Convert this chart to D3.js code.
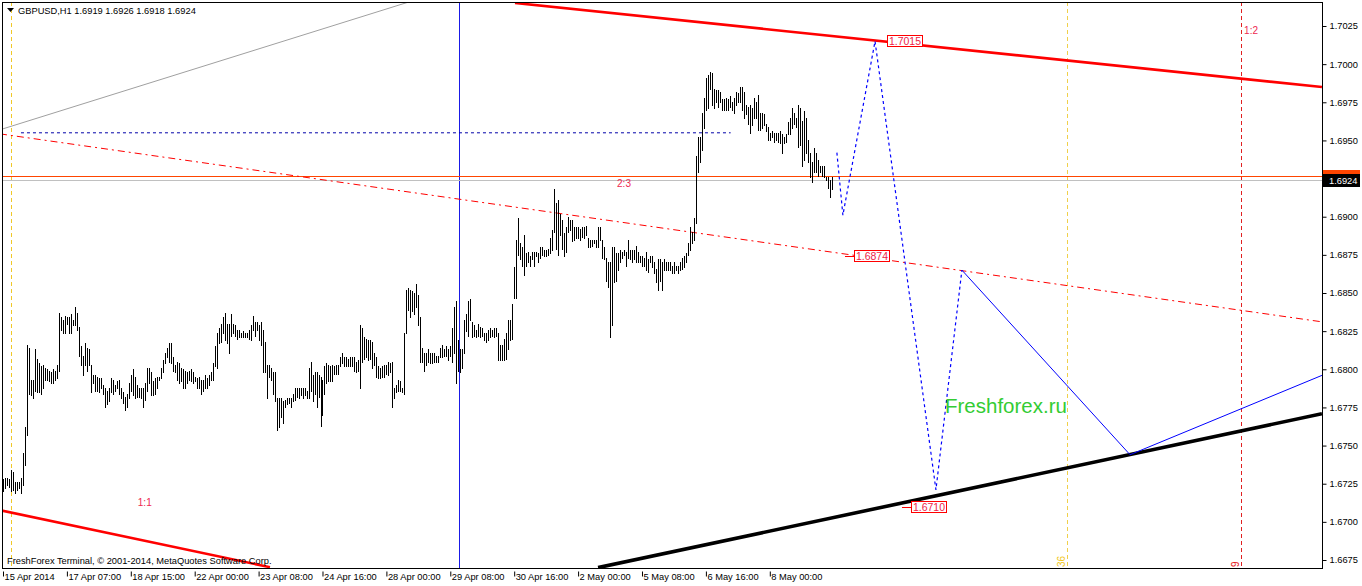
<!DOCTYPE html>
<html><head><meta charset="utf-8">
<script src="https://cdn.jsdelivr.net/npm/d3@7"></script>
<style>
body{margin:0;background:#fff;overflow:hidden}
svg{display:block}
text{font-family:"Liberation Sans",Arial,sans-serif}
</style>
</head><body>
<svg id="chart" width="1362" height="586"></svg>
<script>
// ---------------- DATA ----------------
const symbolTitle = "GBPUSD,H1  1.6919 1.6926 1.6918 1.6924";
const copyrightText = "FreshForex Terminal, \u00A9 2001-2014, MetaQuotes Software Corp.";
const watermark = "Freshforex.ru";

const barHighs = [
1.6728,1.6729,1.6729,1.6728,1.6734,1.6733,1.6726,1.6726,1.6726,1.6729,
1.6745,1.6762,1.6816,1.6814,1.6793,1.6793,1.6813,1.6807,1.6804,1.6802,
1.6803,1.6801,1.6800,1.6799,1.6798,1.6800,1.6799,1.6803,1.6837,1.6834,
1.6832,1.6835,1.6834,1.6834,1.6836,1.6832,1.6841,1.6837,1.6828,1.6815,
1.6809,1.6817,1.6814,1.6813,1.6803,1.6796,1.6796,1.6795,1.6794,1.6794,
1.6790,1.6788,1.6786,1.6788,1.6794,1.6793,1.6790,1.6792,1.6793,1.6788,
1.6785,1.6782,1.6784,1.6791,1.6796,1.6800,1.6795,1.6790,1.6788,1.6788,
1.6788,1.6791,1.6801,1.6801,1.6798,1.6792,1.6794,1.6795,1.6795,1.6801,
1.6806,1.6811,1.6814,1.6817,1.6817,1.6808,1.6803,1.6805,1.6804,1.6801,
1.6800,1.6799,1.6798,1.6799,1.6800,1.6798,1.6795,1.6794,1.6795,1.6793,
1.6793,1.6796,1.6794,1.6796,1.6798,1.6804,1.6815,1.6824,1.6827,1.6830,
1.6834,1.6837,1.6830,1.6830,1.6836,1.6830,1.6829,1.6826,1.6826,1.6824,
1.6825,1.6824,1.6824,1.6826,1.6829,1.6835,1.6831,1.6831,1.6829,1.6831,
1.6826,1.6818,1.6803,1.6803,1.6801,1.6798,1.6798,1.6781,1.6781,1.6781,
1.6779,1.6780,1.6781,1.6781,1.6781,1.6784,1.6788,1.6788,1.6788,1.6788,
1.6788,1.6788,1.6786,1.6801,1.6805,1.6796,1.6798,1.6798,1.6796,1.6795,
1.6793,1.6802,1.6804,1.6803,1.6802,1.6803,1.6802,1.6803,1.6803,1.6808,
1.6811,1.6808,1.6808,1.6807,1.6808,1.6808,1.6808,1.6805,1.6806,1.6829,
1.6827,1.6821,1.6820,1.6819,1.6819,1.6818,1.6811,1.6808,1.6802,1.6801,
1.6802,1.6803,1.6803,1.6805,1.6804,1.6805,1.6788,1.6790,1.6793,1.6792,
1.6788,1.6824,1.6852,1.6853,1.6852,1.6851,1.6850,1.6856,1.6849,1.6834,
1.6814,1.6811,1.6811,1.6813,1.6811,1.6811,1.6811,1.6809,1.6809,1.6814,
1.6816,1.6813,1.6815,1.6813,1.6815,1.6827,1.6841,1.6845,1.6819,1.6813,
1.6813,1.6832,1.6836,1.6845,1.6846,1.6831,1.6829,1.6826,1.6830,1.6828,
1.6827,1.6824,1.6824,1.6826,1.6827,1.6826,1.6827,1.6827,1.6824,1.6816,
1.6816,1.6820,1.6824,1.6832,1.6832,1.6843,1.6867,1.6885,1.6899,1.6883,
1.6880,1.6888,1.6876,1.6877,1.6874,1.6877,1.6877,1.6877,1.6876,1.6880,
1.6880,1.6878,1.6878,1.6879,1.6886,1.6891,1.6918,1.6909,1.6911,1.6902,
1.6898,1.6889,1.6893,1.6900,1.6898,1.6898,1.6893,1.6893,1.6893,1.6892,
1.6893,1.6893,1.6894,1.6886,1.6885,1.6885,1.6885,1.6885,1.6893,1.6893,
1.6885,1.6880,1.6873,1.6870,1.6870,1.6880,1.6880,1.6876,1.6876,1.6878,
1.6877,1.6878,1.6877,1.6885,1.6878,1.6878,1.6878,1.6881,1.6877,1.6874,
1.6874,1.6873,1.6877,1.6872,1.6874,1.6874,1.6870,1.6866,1.6872,1.6872,
1.6870,1.6872,1.6870,1.6870,1.6870,1.6868,1.6870,1.6868,1.6868,1.6870,
1.6873,1.6874,1.6876,1.6883,1.6893,1.6890,1.6899,1.6940,1.6952,1.6952,
1.6968,1.6978,1.6991,1.6993,1.6995,1.6994,1.6984,1.6983,1.6983,1.6982,
1.6977,1.6977,1.6978,1.6977,1.6979,1.6975,1.6978,1.6982,1.6981,1.6985,
1.6985,1.6982,1.6973,1.6972,1.6973,1.6971,1.6978,1.6975,1.6980,1.6968,
1.6968,1.6967,1.6961,1.6959,1.6955,1.6956,1.6955,1.6955,1.6955,1.6956,
1.6954,1.6952,1.6954,1.6962,1.6965,1.6971,1.6968,1.6965,1.6973,1.6971,
1.6963,1.6969,1.6965,1.6950,1.6942,1.6936,1.6945,1.6942,1.6937,1.6933,
1.6933,1.6933,1.6926,1.6926,1.6924,1.6926];

const barLows = [
1.6720,1.6722,1.6724,1.6723,1.6720,1.6721,1.6719,1.6721,1.6722,1.6719,
1.6724,1.6737,1.6757,1.6784,1.6783,1.6781,1.6786,1.6785,1.6785,1.6784,
1.6788,1.6793,1.6793,1.6792,1.6791,1.6791,1.6793,1.6794,1.6799,1.6826,
1.6824,1.6824,1.6830,1.6824,1.6824,1.6829,1.6829,1.6826,1.6809,1.6803,
1.6796,1.6803,1.6799,1.6803,1.6785,1.6791,1.6786,1.6786,1.6785,1.6788,
1.6784,1.6775,1.6777,1.6779,1.6785,1.6784,1.6786,1.6788,1.6784,1.6781,
1.6778,1.6773,1.6775,1.6781,1.6786,1.6783,1.6781,1.6782,1.6782,1.6781,
1.6775,1.6780,1.6786,1.6791,1.6783,1.6783,1.6784,1.6788,1.6793,1.6794,
1.6798,1.6804,1.6808,1.6805,1.6804,1.6799,1.6798,1.6793,1.6791,1.6792,
1.6788,1.6788,1.6791,1.6793,1.6792,1.6791,1.6792,1.6788,1.6788,1.6784,
1.6786,1.6788,1.6788,1.6790,1.6793,1.6793,1.6802,1.6801,1.6817,1.6818,
1.6824,1.6819,1.6817,1.6811,1.6822,1.6824,1.6822,1.6820,1.6821,1.6821,
1.6821,1.6821,1.6821,1.6820,1.6819,1.6826,1.6822,1.6826,1.6819,1.6816,
1.6798,1.6798,1.6781,1.6795,1.6793,1.6784,1.6779,1.6760,1.6762,1.6769,
1.6765,1.6775,1.6777,1.6778,1.6775,1.6779,1.6780,1.6782,1.6781,1.6783,
1.6781,1.6783,1.6781,1.6781,1.6786,1.6779,1.6784,1.6775,1.6782,1.6763,
1.6770,1.6784,1.6791,1.6792,1.6792,1.6792,1.6797,1.6797,1.6797,1.6802,
1.6804,1.6802,1.6802,1.6802,1.6802,1.6802,1.6799,1.6798,1.6799,1.6788,
1.6805,1.6807,1.6808,1.6806,1.6807,1.6801,1.6803,1.6795,1.6794,1.6794,
1.6795,1.6795,1.6797,1.6796,1.6798,1.6775,1.6781,1.6785,1.6786,1.6786,
1.6785,1.6784,1.6824,1.6839,1.6834,1.6838,1.6836,1.6841,1.6829,1.6805,
1.6805,1.6799,1.6803,1.6805,1.6804,1.6804,1.6805,1.6805,1.6805,1.6808,
1.6808,1.6809,1.6809,1.6806,1.6809,1.6805,1.6811,1.6791,1.6799,1.6798,
1.6801,1.6811,1.6825,1.6822,1.6832,1.6821,1.6822,1.6821,1.6822,1.6821,
1.6822,1.6819,1.6818,1.6819,1.6821,1.6822,1.6821,1.6822,1.6806,1.6806,
1.6806,1.6806,1.6807,1.6813,1.6819,1.6820,1.6847,1.6847,1.6875,1.6872,
1.6868,1.6862,1.6868,1.6870,1.6868,1.6872,1.6868,1.6874,1.6870,1.6873,
1.6875,1.6874,1.6874,1.6875,1.6876,1.6878,1.6890,1.6879,1.6875,1.6888,
1.6879,1.6874,1.6877,1.6890,1.6891,1.6884,1.6885,1.6886,1.6886,1.6885,
1.6887,1.6886,1.6888,1.6880,1.6880,1.6881,1.6883,1.6880,1.6880,1.6885,
1.6873,1.6872,1.6858,1.6854,1.6821,1.6829,1.6857,1.6858,1.6865,1.6870,
1.6873,1.6875,1.6868,1.6873,1.6872,1.6870,1.6872,1.6870,1.6870,1.6870,
1.6868,1.6868,1.6865,1.6864,1.6870,1.6867,1.6863,1.6857,1.6852,1.6858,
1.6852,1.6865,1.6865,1.6865,1.6865,1.6863,1.6863,1.6865,1.6863,1.6865,
1.6866,1.6867,1.6870,1.6875,1.6878,1.6883,1.6885,1.6896,1.6929,1.6936,
1.6944,1.6958,1.6970,1.6971,1.6984,1.6973,1.6971,1.6975,1.6972,1.6975,
1.6970,1.6970,1.6970,1.6970,1.6972,1.6970,1.6968,1.6973,1.6975,1.6975,
1.6970,1.6965,1.6967,1.6961,1.6955,1.6960,1.6965,1.6965,1.6957,1.6957,
1.6958,1.6960,1.6956,1.6950,1.6950,1.6952,1.6949,1.6950,1.6949,1.6948,
1.6942,1.6948,1.6949,1.6954,1.6954,1.6958,1.6961,1.6959,1.6946,1.6947,
1.6933,1.6937,1.6942,1.6936,1.6926,1.6923,1.6929,1.6929,1.6927,1.6929,
1.6927,1.6926,1.6924,1.6919,1.6913,1.6918];

const xTickIndex  = [0, 32, 64, 96, 128, 160, 192, 224, 256, 288, 320, 352, 384];
const xTickLabels = ["15 Apr 2014","17 Apr 07:00","18 Apr 15:00","22 Apr 00:00","23 Apr 08:00",
  "24 Apr 16:00","28 Apr 00:00","29 Apr 08:00","30 Apr 16:00","2 May 00:00","5 May 08:00",
  "6 May 16:00","8 May 00:00"];
const yTickValues = [1.6675,1.6700,1.6725,1.6750,1.6775,1.6800,1.6825,1.6850,1.6875,1.6900,
  1.6925,1.6950,1.6975,1.7000,1.7025];
const bidPrice = 1.6924, askPrice = 1.6927;

// objects drawn on chart: [barIndex1, price1, barIndex2, price2]
const grayTrend      = [-1.5, 1.6957, 206.3, 1.7042];
const redChannelTop  = [256.4, 1.70401, 660.5, 1.69850];
const redMidDashDot  = [-1.5, 1.69543, 660.5, 1.68311];
const redLowLeft     = [-1.5, 1.67076, 133.7, 1.66703];
const blackSupport   = [298, 1.66700, 660.5, 1.67709];
const blueLevel      = [9, 1.6955, 364.4, 1.6955];
const forecastDotted = [[417.6,1.6942],[420.6,1.6901],[436.7,1.7015],[467.2,1.6721],[480.2,1.6865]];
const forecastSolid  = [[480.2,1.6865],[564.4,1.6744],[660.5,1.6796]];
const priceLabels = [["1.7015",442.7,1.7015],["1.6874",426.4,1.6874],["1.6710",454.6,1.6710]];
const ratioLabels = [["2:3",311,1.6922],["1:1",71,1.6713],["1:2",625,1.7022]];
const vLines = [[4,"#f0c828","4,3"],[228.5,"#1a1ae6",null],[532.8,"#f0d04a","4,3"],[620,"#e02020","4,3"]];
const vLineTags = [["36",532.8,"#f2c81e"],["9",620,"#e82020"]];

// ---------------- DRAW ----------------
const W = 1362, H = 586;
const plot = {l:2, t:2, r:1322, b:568};
const svg = d3.select("#chart");
const x = d3.scaleLinear().domain([0,415]).range([3,831.7]);
const y = d3.scaleLinear().domain([1.6675,1.7025]).range([560,26]);

const defs = svg.append("defs");
defs.append("clipPath").attr("id","clip")
  .append("rect").attr("x",plot.l).attr("y",plot.t).attr("width",plot.r-plot.l).attr("height",plot.b-plot.t);

const g = svg.append("g").attr("clip-path","url(#clip)");
const line = d3.line().x(d=>x(d[0])).y(d=>y(d[1]));
const seg = a => [[a[0],a[1]],[a[2],a[3]]];

// vertical lines
vLines.forEach(v=>{
  g.append("line").attr("x1",Math.round(x(v[0]))+0.5).attr("x2",Math.round(x(v[0]))+0.5)
   .attr("y1",plot.t).attr("y2",plot.b).attr("stroke",v[1]).attr("stroke-width",1)
   .attr("stroke-dasharray",v[2]);
});

// bid / ask lines
g.append("line").attr("x1",plot.l).attr("x2",plot.r).attr("y1",Math.round(y(askPrice))+0.5).attr("y2",Math.round(y(askPrice))+0.5)
  .attr("stroke","#ff4500").attr("stroke-width",1);
g.append("line").attr("x1",plot.l).attr("x2",plot.r).attr("y1",Math.round(y(bidPrice))+0.5).attr("y2",Math.round(y(bidPrice))+0.5)
  .attr("stroke","#c0c0c0").attr("stroke-width",1);

// trend lines
g.append("path").attr("d",line(seg(grayTrend))).attr("stroke","#a0a0a0").attr("stroke-width",1).attr("fill","none");
g.append("path").attr("d",line(seg(redMidDashDot))).attr("stroke","#ff0000").attr("stroke-width",1).attr("fill","none").attr("stroke-dasharray","7,4,2,4");
g.append("path").attr("d",line(seg(blueLevel))).attr("stroke","#0000a8").attr("stroke-width",1).attr("fill","none").attr("stroke-dasharray","3,3");

// bars
const bars = barHighs.map((h,i)=>({i, h, l:barLows[i]}));
g.append("g").selectAll("line").data(bars).join("line")
  .attr("x1",d=>Math.round(x(d.i))+0.5).attr("x2",d=>Math.round(x(d.i))+0.5)
  .attr("y1",d=>Math.round(y(d.h))).attr("y2",d=>Math.max(Math.round(y(d.l)),Math.round(y(d.h))+1)+1)
  .attr("stroke","#000").attr("stroke-width",1).attr("shape-rendering","crispEdges");

g.append("path").attr("d",line(seg(redChannelTop))).attr("stroke","#ff0000").attr("stroke-width",2.6).attr("fill","none");
g.append("path").attr("d",line(seg(redLowLeft))).attr("stroke","#ff0000").attr("stroke-width",2.6).attr("fill","none");
g.append("path").attr("d",line(seg(blackSupport))).attr("stroke","#000").attr("stroke-width",3.6).attr("fill","none");

// forecast
g.append("path").attr("d",line(forecastDotted)).attr("stroke","#0000ff").attr("stroke-width",1.2).attr("fill","none").attr("stroke-dasharray","3,3");
g.append("path").attr("d",line(forecastSolid)).attr("stroke","#0000ff").attr("stroke-width",1).attr("fill","none");

// price labels
priceLabels.forEach(p=>{
  const px = Math.round(x(p[1])), py = Math.round(y(p[2]));
  g.append("line").attr("x1",px-9).attr("x2",px).attr("y1",py+0.5).attr("y2",py+0.5).attr("stroke","#ff0000");
  g.append("rect").attr("x",px+0.5).attr("y",py-5.5).attr("width",35).attr("height",11)
    .attr("fill","#fff").attr("stroke","#ff0000").attr("stroke-width",1);
  g.append("text").attr("x",px+18).attr("y",py+4).attr("text-anchor","middle")
    .attr("font-size","10.5px").attr("fill","#ee1c48").text(p[0]);
});

// ratio labels
ratioLabels.forEach(r=>{
  g.append("text").attr("x",x(r[1])).attr("y",y(r[2])+3.5).attr("text-anchor","middle")
   .attr("font-size","10px").attr("fill","#ee2850").text(r[0]);
});

// vertical line tags
vLineTags.forEach(t=>{
  const px = Math.round(x(t[1]));
  g.append("text").attr("transform",`translate(${px-2},${plot.b-1}) rotate(-90)`)
   .attr("font-size","10px").attr("fill",t[2]).text(t[0]);
});

// watermark
g.append("text").attr("x",945).attr("y",413).attr("font-size","20.5px").attr("fill","#33cc33").text(watermark);

// title & copyright
svg.append("path").attr("d","M7,8 L14,8 L10.5,12 Z").attr("fill","#000");
svg.append("text").attr("x",18).attr("y",14).attr("font-size","9.3px").attr("fill","#000").text(symbolTitle);
svg.append("text").attr("x",7).attr("y",564).attr("font-size","9.3px").attr("fill","#000").text(copyrightText);

// frame
svg.append("rect").attr("x",plot.l+0.5).attr("y",plot.t+0.5).attr("width",plot.r-plot.l).attr("height",plot.b-plot.t)
  .attr("fill","none").attr("stroke","#000").attr("stroke-width",1);

// axes
const yAxis = d3.axisRight(y).tickValues(yTickValues).tickFormat(d3.format(".4f")).tickSize(4).tickPadding(3);
const ya = svg.append("g").attr("transform",`translate(${plot.r+0.5},0)`).call(yAxis);
ya.select(".domain").remove();
ya.selectAll("text").attr("font-size","9.3px").attr("font-family","Liberation Sans, Arial, sans-serif").attr("fill","#000");

const xAxis = d3.axisBottom(x).tickValues(xTickIndex).tickFormat((d,i)=>xTickLabels[i]).tickSize(8);
const xa = svg.append("g").attr("transform",`translate(0,${plot.b+0.5})`).call(xAxis);
xa.select(".domain").remove();
xa.selectAll(".tick line").attr("y1",3);
xa.selectAll("text").attr("text-anchor","start").attr("x",1).attr("y",11.5).attr("dy",0)
  .attr("font-size","9.3px").attr("font-family","Liberation Sans, Arial, sans-serif").attr("fill","#000");

// current price tags (ask tag partly hidden behind the bid tag, as in the terminal)
const askY = Math.round(y(askPrice)), bidY = Math.round(y(bidPrice));
defs.append("clipPath").attr("id","askclip").append("rect")
  .attr("x",plot.r+1).attr("y",askY-7).attr("width",40).attr("height",bidY-6-(askY-7));
const askG = svg.append("g").attr("clip-path","url(#askclip)");
askG.append("rect").attr("x",plot.r+1).attr("y",askY-6).attr("width",37).attr("height",13).attr("fill","#ff4500");
askG.append("text").attr("x",plot.r+7).attr("y",askY+4).attr("font-size","9.3px").attr("fill","#fff").text(d3.format(".4f")(askPrice));
svg.append("rect").attr("x",plot.r+1).attr("y",bidY-6).attr("width",37).attr("height",13).attr("fill","#000");
svg.append("text").attr("x",plot.r+7).attr("y",bidY+4).attr("font-size","9.3px").attr("fill","#fff").text(d3.format(".4f")(bidPrice));
</script>
</body></html>
